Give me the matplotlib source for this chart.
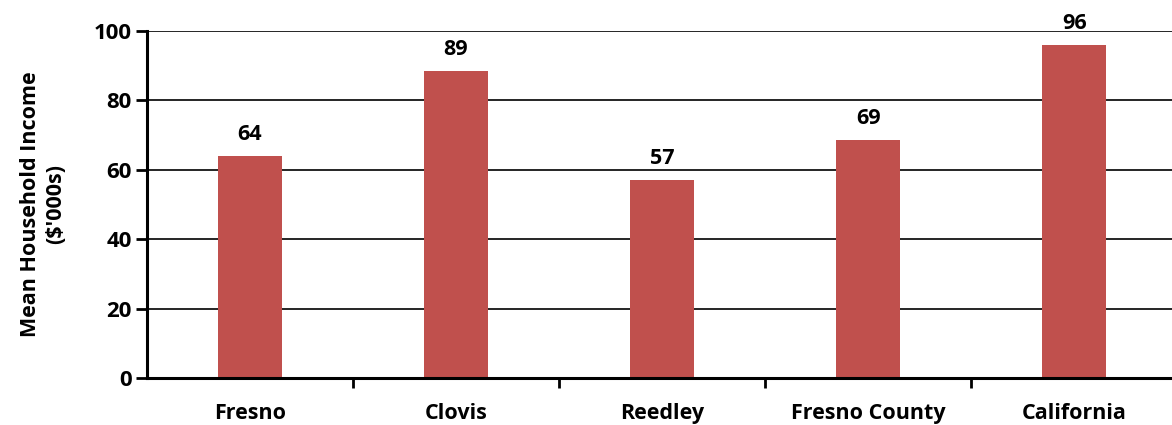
import matplotlib.pyplot as plt

# Data
places = ['Fresno', 'Clovis', 'Reedley', 'Fresno County', 'California']
income = [64, 88.5, 57, 68.5, 96]
labels = ['64', '89', '57', '69', '96']

plt.rcParams['font.family'] = ['Open Sans', 'DejaVu Sans']
plt.rcParams['font.weight'] = 'bold'

fig = plt.figure(figsize=(11.72, 4.25), dpi=100)
ax = fig.add_axes([147 / 1172, 47 / 425, 1025 / 1172, 347 / 425])

x = range(len(places))
bars = ax.bar(x, income, width=0.31, color='#C0504D', zorder=3)

for b, lab in zip(bars, labels):
    ax.annotate(lab, (b.get_x() + b.get_width() / 2, b.get_height()),
                xytext=(0, 8), textcoords='offset points',
                ha='center', va='bottom', fontsize=15.5, fontweight='bold',
                annotation_clip=False)

ax.set_ylim(0, 100)
ax.set_xlim(-0.5, 4.475)
ax.set_yticks(range(0, 101, 20))
ax.yaxis.grid(True, color='black', linewidth=1.2, zorder=0)

ax.set_xticks(list(x))
ax.set_xticklabels(places, fontsize=15.5, fontweight='bold')
ax.tick_params(axis='x', length=0, pad=18)
ax.set_xticks([0.5, 1.5, 2.5, 3.5], minor=True)
ax.tick_params(axis='x', which='minor', length=7, width=2, direction='out')
ax.tick_params(axis='y', length=8, width=2, direction='out', labelsize=16, pad=3)
for t in ax.get_yticklabels():
    t.set_fontweight('bold')

ax.spines['top'].set_visible(False)
ax.spines['right'].set_visible(False)
ax.spines['left'].set_linewidth(2.2)
ax.spines['bottom'].set_linewidth(2.2)
ax.spines['left'].set_zorder(4)
ax.spines['bottom'].set_zorder(4)

ax.set_ylabel("Mean Household Income\n($'000s)", fontsize=15.5, fontweight='bold',
              labelpad=20, linespacing=1.25)

plt.savefig('out.png')
